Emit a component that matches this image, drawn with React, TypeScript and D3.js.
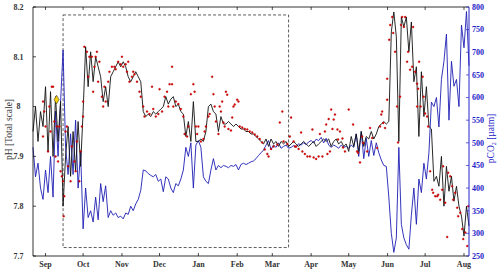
import React, { useEffect, useRef } from 'react';
import * as d3 from 'd3';

// series start date, one sample every 2 days
const startDate = new Date(2012, 7, 22);
const endDate = new Date(2013, 7, 5);
const stepDays = 2;

// pH sensor (black line), every 2 days
const phSensor = [
  7.95, 8.00, 7.93, 7.99, 7.96, 8.04, 7.91, 8.03, 7.90, 8.02,
  7.93, 8.01, 7.80, 7.90, 7.96, 7.86, 7.95, 7.87, 7.97, 7.88,
  7.99, 8.12, 8.04, 8.11, 8.05, 8.10, 8.08, 8.06, 8.01, 8.04,
  8.00, 8.06, 8.07, 8.08, 8.09, 8.08, 8.09, 8.08, 8.06, 8.05,
  8.06, 8.07, 8.06, 8.05, 7.99, 7.98, 7.985, 7.98, 7.99, 7.985,
  7.99, 7.995, 8.00, 8.02, 8.005, 8.015, 8.02, 8.00, 8.005, 7.99,
  7.985, 7.94, 7.97, 7.93, 8.01, 7.93, 7.93, 7.935, 7.93, 7.95,
  8.00, 8.005, 7.99, 7.985, 7.95, 7.98, 7.965, 7.965, 7.97, 7.965,
  7.96, 7.965, 7.96, 7.955, 7.955, 7.95, 7.95, 7.945, 7.945, 7.94,
  7.935, 7.93, 7.925, 7.935, 7.92, 7.935, 7.925, 7.93, 7.92, 7.93,
  7.925, 7.93, 7.92, 7.925, 7.93, 7.925, 7.92, 7.925, 7.93, 7.925,
  7.92, 7.925, 7.93, 7.92, 7.925, 7.93, 7.935, 7.93, 7.935, 7.92,
  7.93, 7.935, 7.925, 7.93, 7.92, 7.925, 7.91, 7.94, 7.92, 7.945,
  7.91, 7.95, 7.92, 7.94, 7.935, 7.95, 7.935, 7.945, 7.96, 7.965,
  7.97, 7.965, 7.97, 8.15, 8.19, 8.14, 7.93, 8.18, 8.16, 8.18,
  8.11, 8.17, 8.05, 8.08, 7.94, 8.07, 7.98, 8.04, 7.96, 7.955,
  7.85, 7.86, 7.84, 7.90, 7.80, 7.88, 7.83, 7.86, 7.81, 7.84,
  7.80, 7.78, 7.74, 7.80, 7.76,
];

// pCO2 (blue line, right axis), every 2 days
const pco2 = [
  490, 425, 455, 400, 375, 440, 390, 470, 380, 570,
  470, 590, 705, 490, 430, 520, 430, 550, 400, 480,
  310, 400, 335, 350, 325, 380, 330, 410, 370, 405,
  335, 350, 340, 345, 335, 338, 332, 345, 342, 360,
  350, 365, 375, 395, 440, 438, 432, 428, 425, 430,
  415, 420, 392, 425, 420, 400, 390, 410, 405, 420,
  440, 490, 470, 500, 400, 495, 505, 490, 425, 415,
  410, 440, 465, 440, 450, 445, 450, 448, 445, 450,
  448, 452, 440, 452, 455, 452, 455, 458, 460, 465,
  472, 478, 484, 495, 505, 485, 495, 490, 500, 488,
  492, 495, 488, 490, 494, 490, 498, 495, 500, 496,
  502, 505, 500, 508, 505, 512, 500, 510, 495, 490,
  495, 492, 488, 495, 490, 492, 488, 495, 490, 520,
  470, 525, 465, 510, 470, 505, 472, 500, 478, 462,
  450, 448, 380, 300, 258, 290, 490, 320, 290, 275,
  265, 340, 400, 320, 420, 390, 455, 420, 478, 590,
  580, 600, 535, 640, 680, 740, 550, 680, 625, 640,
  580, 760, 710, 790, 670,
];

// discrete pH samples (red dots): [day after start, pH]
const phSamples: [number, number][] = [
  [8, 8.01], [9, 7.99], [10, 7.96], [8, 7.94], [12, 7.91], [13, 8.00], [14, 7.95], [15, 8.04],
  [16, 8.04], [17, 7.97], [18, 7.90], [19, 7.96], [20, 7.89], [21, 7.96], [22, 7.87], [23, 7.86],
  [24, 7.85], [24.5, 7.78], [25, 7.82], [26, 7.95], [27, 7.96], [28, 7.88], [30, 7.85], [31, 7.92],
  [33, 7.89], [34, 7.87], [35, 7.93], [37, 7.85], [38, 7.91], [39, 7.96], [40, 7.98], [40, 8.01],
  [41, 8.12], [43, 8.11], [44, 8.06], [45, 8.10], [47, 8.10], [48, 8.03], [49, 8.08], [50, 8.10],
  [51, 8.11], [52, 8.05], [53, 8.09], [55, 8.02], [56, 8.00], [57, 8.04], [58, 8.01], [60, 8.05],
  [61, 8.07], [63, 8.08], [65, 8.08], [66, 8.075], [68, 8.09], [70, 8.085], [71, 8.10], [72, 8.08],
  [74, 8.085], [75, 8.07], [76, 8.09], [77, 8.05], [79, 8.06], [80, 8.07], [81, 8.065], [83, 8.05],
  [85, 8.03], [86, 8.02], [88, 8.00], [89, 7.98], [91, 7.99], [93, 7.985], [95, 8.04], [96, 7.995],
  [98, 7.98], [100, 7.985], [101, 8.035], [103, 7.99], [105, 8.02], [107, 8.03], [108, 8.0],
  [109, 8.045], [111, 8.08], [111, 8.045], [112, 8.0], [114, 8.01], [116, 8.005], [118, 7.995],
  [120, 7.98], [121, 7.945], [123, 7.94], [124, 7.96], [126, 8.025], [128, 8.045], [129, 8.03],
  [130, 7.96], [131, 7.945], [132, 7.96], [134, 7.93], [136, 7.935], [137, 7.95], [138, 7.96],
  [140, 7.98], [141, 7.985], [143, 8.06], [144, 8.025], [145, 8.0], [146, 7.97], [148, 7.945],
  [149, 8.0], [150, 7.99], [151, 8.01], [152, 7.968], [153, 7.96], [154, 8.03], [155, 8.024],
  [156, 7.955], [158, 7.952], [159, 7.978], [160, 8.0], [161, 8.004], [163, 8.014], [164, 8.01],
  [165, 7.96], [167, 7.958], [169, 7.955], [171, 7.954], [173, 7.95], [175, 7.948], [177, 7.944],
  [179, 7.94], [181, 7.935], [183, 7.928], [185, 7.914], [187, 7.905], [188, 7.90], [190, 7.915],
  [192, 7.92], [195, 7.924], [197, 7.968], [199, 7.99], [200, 7.93], [203, 7.925], [205, 7.94],
  [206, 7.978], [208, 7.93], [209, 7.92], [210, 7.92], [212, 7.915], [214, 7.948], [215, 7.91],
  [217, 7.905], [219, 7.90], [221, 7.90], [223, 7.954], [224, 7.898], [226, 7.895], [228, 7.90],
  [229, 7.945], [231, 7.90], [233, 7.95], [234, 7.964], [235, 7.905], [236, 7.975], [237, 7.91],
  [238, 7.994], [239, 7.955], [240, 7.974], [241, 7.984], [243, 7.954], [243.5, 7.934], [245, 7.95],
  [247, 7.936], [247.5, 7.918], [249, 7.91], [252, 7.994], [255.5, 7.964], [258.7, 7.91],
  [259.5, 7.907], [261, 7.888], [262.7, 7.94], [263.5, 7.927], [266.7, 7.91], [269, 7.957],
  [270.7, 7.937], [274.7, 7.917], [277, 7.96], [278, 7.984], [278.7, 7.99], [279.5, 7.967],
  [281, 7.957], [282.7, 8.014], [282.7, 8.056], [284.3, 8.134], [285.1, 8.164], [286.7, 8.18],
  [287.5, 8.148], [289, 8.11], [290.6, 8.0], [291.4, 7.928], [293, 8.02], [293.8, 8.164],
  [294.6, 8.18], [296, 8.16], [297, 8.18], [298.6, 8.09], [299.4, 8.11], [301, 8.074], [302.6, 8.08],
  [303.4, 8.16], [305, 8.07], [306.6, 8.046], [307.4, 8.036], [308.2, 8.09], [306.6, 8.0],
  [309.4, 8.0], [311, 8.06], [311.8, 8.02], [313, 7.986], [314.6, 7.98], [315.4, 7.96], [317, 7.87],
  [318.6, 7.833], [319.4, 7.827], [321, 7.82], [322.6, 7.82], [323.4, 7.823], [325, 7.813],
  [326.6, 7.833], [327.4, 7.88], [329, 7.807], [330.6, 7.738], [331.4, 7.867], [333, 7.86],
  [334.6, 7.84], [335.4, 7.813], [337, 7.827], [338.6, 7.797], [339.4, 7.78], [341, 7.787],
  [342.6, 7.754], [343.4, 7.734], [345, 7.747], [346.6, 7.72], [347.4, 7.80],
];

// single highlighted sample (yellow)
const markerDay = 18.8;
const markerPh = 8.014;

// dashed box: dates and pH bounds
const boxStart = new Date(2012, 8, 15);
const boxEnd = new Date(2013, 2, 14);
const boxPhTop = 8.184;
const boxPhBottom = 7.717;

const phTicks = [7.7, 7.8, 7.9, 8, 8.1, 8.2];
const pco2Ticks = [250, 300, 350, 400, 450, 500, 550, 600, 650, 700, 750, 800];
const monthTicks = d3.timeMonth.range(new Date(2012, 8, 1), new Date(2013, 7, 2));

const W = 500, H = 271;
const left = 33, right = 469, top = 7, bottom = 256;
const BLUE = '#1e1eb4';
const AXBLUE = '#2424c8';
const FONT = '"Liberation Serif", "DejaVu Serif", serif';

const dayToDate = (d: number) => new Date(startDate.getTime() + d * 864e5);

export default function App() {
  const ref = useRef<SVGSVGElement>(null);

  useEffect(() => {
    const svg = d3.select(ref.current);
    svg.selectAll('*').remove();

    const x = d3.scaleTime().domain([startDate, endDate]).range([left, right]);
    const yPh = d3.scaleLinear().domain([7.7, 8.2]).range([bottom, top]);
    const yCo2 = d3.scaleLinear().domain([250, 800]).range([bottom, top]);

    // dashed box
    svg.append('rect')
      .attr('x', x(boxStart))
      .attr('y', yPh(boxPhTop))
      .attr('width', x(boxEnd) - x(boxStart))
      .attr('height', yPh(boxPhBottom) - yPh(boxPhTop))
      .attr('fill', 'none')
      .attr('stroke', '#333')
      .attr('stroke-width', 0.8)
      .attr('stroke-dasharray', '3,2');

    const co2Line = d3.line<number>()
      .x((d, i) => x(dayToDate(i * stepDays)))
      .y(d => yCo2(d));
    svg.append('path')
      .attr('d', co2Line(pco2))
      .attr('fill', 'none')
      .attr('stroke', BLUE)
      .attr('stroke-width', 0.9);

    const phLine = d3.line<number>()
      .x((d, i) => x(dayToDate(i * stepDays)))
      .y(d => yPh(d));
    svg.append('path')
      .attr('d', phLine(phSensor))
      .attr('fill', 'none')
      .attr('stroke', '#111')
      .attr('stroke-width', 0.9);

    svg.append('g').selectAll('circle')
      .data(phSamples)
      .enter().append('circle')
      .attr('cx', d => x(dayToDate(d[0])))
      .attr('cy', d => yPh(d[1]))
      .attr('r', 1.0)
      .attr('fill', '#e00000')
      .attr('stroke', '#900')
      .attr('stroke-width', 0.3);

    // yellow diamond
    const mx = x(dayToDate(markerDay)), my = yPh(markerPh);
    svg.append('path')
      .attr('d', d3.symbol(d3.symbolDiamond, 22)())
      .attr('transform', `translate(${mx},${my})`)
      .attr('fill', '#f7d000')
      .attr('stroke', '#222')
      .attr('stroke-width', 0.5);

    // frame
    svg.append('line').attr('x1', left).attr('x2', right).attr('y1', top).attr('y2', top)
      .attr('stroke', '#000').attr('stroke-width', 0.8);
    svg.append('line').attr('x1', left).attr('x2', right).attr('y1', bottom).attr('y2', bottom)
      .attr('stroke', '#000').attr('stroke-width', 0.8);
    svg.append('line').attr('x1', left).attr('x2', left).attr('y1', top).attr('y2', bottom)
      .attr('stroke', '#000').attr('stroke-width', 0.8);
    svg.append('line').attr('x1', right).attr('x2', right).attr('y1', top).attr('y2', bottom)
      .attr('stroke', AXBLUE).attr('stroke-width', 1);

    // month ticks, top and bottom
    const mt = svg.append('g');
    monthTicks.forEach(m => {
      const xx = x(m);
      mt.append('line').attr('x1', xx).attr('x2', xx).attr('y1', bottom).attr('y2', bottom - 3)
        .attr('stroke', '#000').attr('stroke-width', 0.7);
      mt.append('line').attr('x1', xx).attr('x2', xx).attr('y1', top).attr('y2', top + 3)
        .attr('stroke', '#000').attr('stroke-width', 0.7);
      mt.append('text')
        .attr('x', xx).attr('y', 267)
        .attr('text-anchor', 'middle')
        .attr('font-family', FONT).attr('font-weight', 'bold').attr('font-size', 8)
        .attr('fill', '#333')
        .text(d3.timeFormat('%b')(m));
    });

    // left pH axis
    const la = svg.append('g');
    phTicks.forEach(t => {
      const yy = yPh(t);
      la.append('line').attr('x1', left).attr('x2', left + 3).attr('y1', yy).attr('y2', yy)
        .attr('stroke', '#000').attr('stroke-width', 0.7);
      la.append('text')
        .attr('x', 18.5).attr('y', yy + 2.8)
        .attr('text-anchor', 'middle')
        .attr('font-family', FONT).attr('font-weight', 'bold').attr('font-size', 8)
        .attr('fill', '#333')
        .text(d3.format('')(t));
    });
    svg.append('text')
      .attr('transform', `translate(12,${(top + bottom) / 2 - 2}) rotate(-90)`)
      .attr('text-anchor', 'middle')
      .attr('font-family', FONT).attr('font-size', 9.5)
      .attr('fill', '#333')
      .text('pH  [Total scale]');

    // right pCO2 axis
    const ra = svg.append('g');
    pco2Ticks.forEach(t => {
      const yy = yCo2(t);
      ra.append('line').attr('x1', right).attr('x2', right - 3).attr('y1', yy).attr('y2', yy)
        .attr('stroke', AXBLUE).attr('stroke-width', 0.7);
      ra.append('text')
        .attr('x', right + 3).attr('y', yy + 2.8)
        .attr('font-family', FONT).attr('font-weight', 'bold').attr('font-size', 8)
        .attr('fill', AXBLUE)
        .text(t);
    });
    const lbl = svg.append('text')
      .attr('transform', `translate(494,${(top + bottom) / 2 + 7}) rotate(-90)`)
      .attr('text-anchor', 'middle')
      .attr('font-family', FONT).attr('font-size', 9.5)
      .attr('fill', AXBLUE);
    lbl.append('tspan').text('pCO');
    lbl.append('tspan').attr('font-size', 6).attr('dy', 2).text('2');
    lbl.append('tspan').attr('dy', -2).text(' [µatm]');
  }, []);

  return (
    <svg ref={ref} width={W} height={H}
      style={{ position: 'absolute', left: 0, top: 0, background: '#fff' }} />
  );
}
